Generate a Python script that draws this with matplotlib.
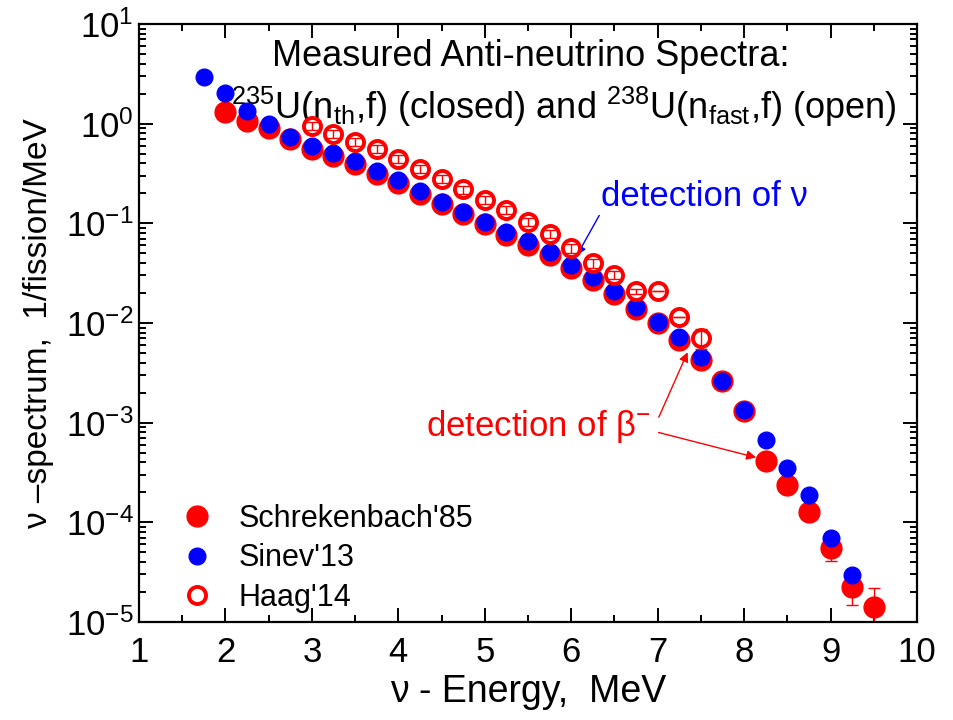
import numpy as np
import matplotlib
matplotlib.use("Agg")
import matplotlib.pyplot as plt
from matplotlib import font_manager

names = set(f.name for f in font_manager.fontManager.ttflist)
fam = 'Liberation Sans Narrow' if 'Liberation Sans Narrow' in names else 'Liberation Sans'
plt.rcParams['font.family'] = [fam, 'DejaVu Sans']
plt.rcParams['mathtext.fontset'] = 'custom'
plt.rcParams['mathtext.rm'] = fam
plt.rcParams['mathtext.it'] = fam
plt.rcParams['mathtext.default'] = 'regular'

# Schreckenbach'85, 235U thermal
e_sch = [2.0, 2.25, 2.5, 2.75, 3.0, 3.25, 3.5, 3.75, 4.0, 4.25, 4.5, 4.75, 5.0, 5.25,
         5.5, 5.75, 6.0, 6.25, 6.5, 6.75, 7.0, 7.25, 7.5, 7.75, 8.0, 8.25, 8.5, 8.75,
         9.0, 9.25, 9.5]
y_sch = [1.31, 1.06, 0.905, 0.695, 0.557, 0.474, 0.39, 0.313, 0.254, 0.197, 0.155, 0.123,
         0.0975, 0.0766, 0.0607, 0.0477, 0.0357, 0.0271, 0.0196, 0.0138, 0.0100, 0.00678,
         0.00422, 0.00259, 0.00131, 4.14e-4, 2.38e-4, 1.28e-4, 5.58e-5, 2.22e-5, 1.40e-5]
err_sch = [0, 0, 0, 0, 0, 0, 0, 0, 0, 0, 0, 0, 0, 0, 0, 0, 0, 0, 0, 0, 0, 0, 0, 0, 0,
           0, 0, 0, 1.5e-5, 7.5e-6, 8e-6]

# Sinev'13
e_sin = [1.75, 2.0, 2.25, 2.5, 2.75, 3.0, 3.25, 3.5, 3.75, 4.0, 4.25, 4.5, 4.75, 5.0,
         5.25, 5.5, 5.75, 6.0, 6.25, 6.5, 6.75, 7.0, 7.25, 7.5, 7.75, 8.0, 8.25, 8.5,
         8.75, 9.0, 9.25]
y_sin = [2.94, 2.03, 1.35, 0.99, 0.74, 0.60, 0.51, 0.42, 0.336, 0.272, 0.213, 0.165,
         0.131, 0.104, 0.0826, 0.0666, 0.052, 0.0383, 0.0292, 0.0207, 0.0146, 0.0103,
         0.0073, 0.00452, 0.00264, 0.00134, 6.7e-4, 3.5e-4, 1.86e-4, 6.95e-5, 2.93e-5]

# Haag'14, 238U fast
e_haag = [3.0, 3.25, 3.5, 3.75, 4.0, 4.25, 4.5, 4.75, 5.0, 5.25, 5.5, 5.75, 6.0, 6.25,
          6.5, 6.75, 7.0, 7.25, 7.5]
y_haag = [0.955, 0.789, 0.659, 0.557, 0.446, 0.351, 0.281, 0.219, 0.172, 0.136, 0.104,
          0.0783, 0.0563, 0.0398, 0.0304, 0.0207, 0.0207, 0.0116, 0.00705]
err_haag = [0.09, 0.075, 0.062, 0.052, 0.042, 0.033, 0.026, 0.02, 0.016, 0.013, 0.01,
            0.0075, 0.0055, 0.004, 0.003, 0.001, 0, 0, 0.0016]

RED = '#ff0000'
BLUE = '#0000ff'

fig = plt.figure(figsize=(9.54, 7.2), dpi=100)
ax = fig.add_axes([0.1457, 0.1361, 0.8155, 0.8306])

ax.errorbar(e_sch, y_sch, yerr=err_sch, fmt='none', ecolor=RED, elinewidth=1,
            capsize=4, capthick=1, zorder=2)
h1, = ax.plot(e_sch, y_sch, 'o', ms=15, color=RED, mec=RED, zorder=3)
h2, = ax.plot(e_sin, y_sin, 'o', ms=12, color=BLUE, mec=BLUE, zorder=4)
h3, = ax.plot(e_haag, y_haag, 'o', ms=12.3, mfc='white', mec=RED, mew=2.8, zorder=5)
ax.errorbar(e_haag, y_haag, yerr=err_haag, fmt='none', ecolor=RED, elinewidth=1,
            capsize=4, capthick=1, zorder=6)

ax.set_yscale('log')
ax.set_xlim(1, 10)
ax.set_ylim(1e-5, 10)
ax.set_xticks(range(1, 11))
ax.set_xticks(np.arange(1.5, 10, 1), minor=True)

for s in ax.spines.values():
    s.set_linewidth(1.6)
ax.tick_params(which='both', direction='in', top=True, right=True, width=1.4,
               labelsize=25)
ax.tick_params(axis='x', pad=10)
ax.tick_params(axis='y', pad=4)
ax.tick_params(which='major', length=10)
ax.tick_params(which='minor', length=5)

ax.set_xlabel('\u03bd - Energy,  MeV', fontsize=27, labelpad=4)
ax.set_ylabel('\u03bd \u2013spectrum,  1/fission/MeV', fontsize=24, labelpad=8)

ax.text(0.503, 0.945, 'Measured Anti-neutrino Spectra:', transform=ax.transAxes,
        fontsize=26, ha='center', va='center')
ax.text(0.546, 0.862, r'$^{235}$U(n$_{th}$,f) (closed) and $^{238}$U(n$_{fast}$,f) (open)',
        transform=ax.transAxes, fontsize=26, ha='center', va='center')

ax.annotate('', xy=(6.05, 0.045), xytext=(6.34, 0.127),
            arrowprops=dict(arrowstyle='-|>', color=BLUE, lw=1, mutation_scale=14))
ax.text(6.34, 0.184, 'detection of \u03bd', color=BLUE, fontsize=25, ha='left', va='center')

ax.annotate('', xy=(7.36, 0.0054), xytext=(7.0, 1.07e-3),
            arrowprops=dict(arrowstyle='-|>', color=RED, lw=1, mutation_scale=14))
ax.annotate('', xy=(8.17, 4.4e-4), xytext=(6.98, 8.1e-4),
            arrowprops=dict(arrowstyle='-|>', color=RED, lw=1, mutation_scale=14))
ax.text(6.92, 9.1e-4, 'detection of \u03b2$^{-}$', color=RED, fontsize=25,
        ha='right', va='center')

ax.legend([h1, h2, h3], ["Schrekenbach'85", "Sinev'13", "Haag'14"], loc='lower left',
          bbox_to_anchor=(0.02, -0.025), frameon=False, fontsize=22, handletextpad=0.75,
          labelspacing=0.3, borderpad=0.3, handlelength=1.2)

fig.savefig('out.png', dpi=100)
